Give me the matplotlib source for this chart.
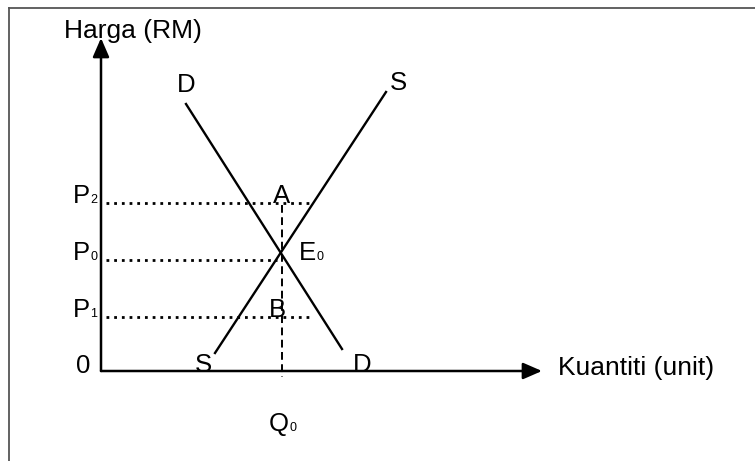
import matplotlib
matplotlib.use("Agg")
import matplotlib.pyplot as plt
from matplotlib.patches import FancyArrowPatch

plt.rcParams["font.family"] = ["Liberation Sans", "DejaVu Sans"]

# values (arbitrary price / quantity units, origin at 0)
Q_DEMAND = [85, 241]
P_DEMAND = [267, 22]
Q_SUPPLY = [114, 285]
P_SUPPLY = [18, 279]
P_SUBS = ["2", "0", "1"]
P_VALUES = [168, 111, 54]
P_GUIDE_END = [212, 176, 209]   # where the dotted price guide stops
Q0 = 181
Q_AXIS_MAX = 441
P_AXIS_MAX = 333

FS = 18.5
FS_SUB = 9
W_P = 0.667 * FS   # glyph advance of "P"/"E" in points (Arial metrics)
W_Q = 0.778 * FS


def sub_label(ax, x, y, main, sub, width):
    ax.text(x, y, main, fontsize=FS, ha="left", va="baseline")
    ax.annotate(sub, (x, y), xytext=(width + 0.3, 0), textcoords="offset points",
                fontsize=FS_SUB, ha="left", va="baseline")


fig = plt.figure(figsize=(7.55, 4.61), dpi=100)
ax = fig.add_axes([0, 0, 1, 1])
ax.set_xlim(-101, 654)
ax.set_ylim(-90, 371)
ax.axis("off")

# frame (only top and left edges are visible)
ax.plot([-92, 654], [363, 363], color="#555555", lw=1.3, clip_on=False)
ax.plot([-92, -92], [363, -90], color="#555555", lw=1.3, clip_on=False)

# axes with arrows
arrow = "-|>,head_length=1.15,head_width=0.5"
for end in [(0, P_AXIS_MAX), (Q_AXIS_MAX, 0)]:
    ax.add_patch(FancyArrowPatch((0, 0), end, arrowstyle=arrow, mutation_scale=10,
                                 color="black", lw=1.8, shrinkA=0, shrinkB=0))

# demand and supply
ax.plot(Q_DEMAND, P_DEMAND, color="black", lw=1.7)
ax.plot(Q_SUPPLY, P_SUPPLY, color="black", lw=1.7)

# dotted price guides
for p, qe in zip(P_VALUES, P_GUIDE_END):
    ax.plot([5, qe], [p, p], color="black", lw=2.0, ls=(0, (1, 1.77)),
            solid_capstyle="butt", dash_capstyle="butt")

# dashed Q0 line
ax.plot([Q0, Q0], [P_VALUES[0] - 2, -6], color="black", lw=1.4, ls=(0, (4, 2.3)))

# axis titles
ax.text(-37, 333, "Harga (RM)", fontsize=19, ha="left", va="baseline")
ax.text(457, -4, "Kuantiti (unit)", fontsize=19, ha="left", va="baseline")

# curve labels
ax.text(85, 279, "D", fontsize=FS, ha="center", va="baseline")
ax.text(297, 281, "S", fontsize=FS, ha="center", va="baseline")
ax.text(102, -1, "S", fontsize=FS, ha="center", va="baseline")
ax.text(261, -1, "D", fontsize=FS, ha="center", va="baseline")
ax.text(-18, -2, "0", fontsize=FS, ha="center", va="baseline")
ax.text(Q0, P_VALUES[0], "A", fontsize=FS, ha="center", va="baseline")
ax.text(176, P_VALUES[2], "B", fontsize=FS, ha="center", va="baseline")

for s, p in zip(P_SUBS, P_VALUES):
    sub_label(ax, -28, p, "P", s, W_P)
sub_label(ax, 198, P_VALUES[1], "E", "0", W_P)
sub_label(ax, 168, -60, "Q", "0", W_Q)

fig.savefig("out.png", dpi=100)
